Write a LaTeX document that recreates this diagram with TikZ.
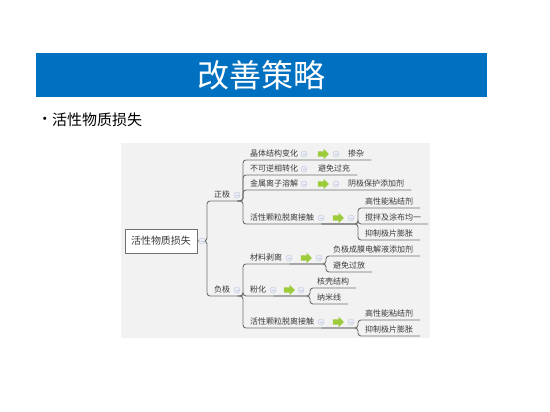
\documentclass[tikz,border=0pt]{standalone}
\usepackage{fontspec}
\newfontfamily\cjk{Noto Sans CJK SC}
\usetikzlibrary{shapes.arrows}

\definecolor{bannerblue}{HTML}{0070C0}
\definecolor{panelgray}{HTML}{F2F2F2}
\definecolor{linegray}{HTML}{707070}
\definecolor{textgray}{HTML}{3A3A3A}
\definecolor{arrowgreen}{HTML}{9CCB3B}
\definecolor{foldfill}{HTML}{ECEEF6}
\definecolor{folddraw}{HTML}{C6CCE2}

\tikzset{
  topic/.style={anchor=south west, inner xsep=7pt, inner ysep=2pt, text height=6.6pt, text depth=1.2pt,
    font=\cjk\fontsize{8}{8}\selectfont, text=textgray},
  rootbox/.style={draw=linegray, fill=white, line width=0.8pt, minimum width=72pt, minimum height=24pt,
    font=\cjk\fontsize{10}{10}\selectfont, text=textgray},
  link/.style={draw=linegray, line width=0.9pt, rounded corners=3pt},
  fold/.style={circle, draw=folddraw, fill=foldfill, line width=0.5pt, inner sep=0pt, minimum size=6pt,
    path picture={\draw[folddraw, line width=0.6pt] ([xshift=-1.5pt]path picture bounding box.center)
      -- ([xshift=1.5pt]path picture bounding box.center);}},
  greenarrow/.style={single arrow, fill=arrowgreen, draw=none, inner sep=2.5pt,
    minimum height=11pt, minimum width=10pt, single arrow head extend=2.5pt},
}

\begin{document}
\begin{tikzpicture}[x=1pt, y=-1pt]
  \useasboundingbox (0,0) rectangle (550,412);

  % 标题
  \fill[bannerblue] (36,53) rectangle (487,97);
  \node[text=white, font=\cjk\fontsize{32}{32}\selectfont] (title) at (261.5,75) {改善策略};
  \node[inner sep=0pt, font=\cjk\fontsize{15}{15}\selectfont] (dot) at (45,121) {•};
  \node[anchor=west, inner sep=0pt, font=\cjk\fontsize{15}{15}\selectfont] (head) at (52,120) {活性物质损失};

  % 背景
  \fill[panelgray] (121,143) rectangle (430,338);

  % 中心主题
  \node[rootbox] (root) at (161,241) {活性物质损失};
  \node[topic] (zj) at (207,201) {正极};
  \node[topic] (fj) at (207,296) {负极};

  % 正极
  \node[topic] (zj1) at (243,160) {晶体结构变化};
  \node[topic] (zj2) at (243,175) {不可逆相转化};
  \node[topic] (zj3) at (243,190) {金属离子溶解};
  \node[topic] (zj4) at (243,224) {活性颗粒脱离接触};
  \node[topic] (zd1) at (341,160) {掺杂};
  \node[topic] (zd2) at (311,175) {避免过充};
  \node[topic] (zd3) at (341,190) {阴极保护添加剂};
  \node[topic] (zs1) at (358,208) {高性能粘结剂};
  \node[topic] (zs2) at (358,224) {搅拌及涂布均一};
  \node[topic] (zs3) at (358,240) {抑制极片膨胀};

  % 负极
  \node[topic] (fj1) at (243,264) {材料剥离};
  \node[topic] (fj2) at (243,296) {粉化};
  \node[topic] (fj3) at (243,328) {活性颗粒脱离接触};
  \node[topic] (fs1) at (326,256) {负极成膜电解液添加剂};
  \node[topic] (fs2) at (326,272) {避免过放};
  \node[topic] (fs3) at (310,288) {核壳结构};
  \node[topic] (fs4) at (310,304) {纳米线};
  \node[topic] (fs5) at (358,320) {高性能粘结剂};
  \node[topic] (fs6) at (358,336) {抑制极片膨胀};

  % 连线
  \draw[link] (root.east) -| (zj.south west) -- (zj.south east);
  \draw[link] (root.east) -| (fj.south west) -- (fj.south east);

  \draw[link] (zj.south east) -| (zj1.south west) -- (zj1.south east) -- (zd1.south west) -- (zd1.south east);
  \draw[link] (zj.south east) -| (zj2.south west) -- (zj2.south east) -- (zd2.south west) -- (zd2.south east);
  \draw[link] (zj.south east) -| (zj3.south west) -- (zj3.south east) -- (zd3.south west) -- (zd3.south east);
  \draw[link] (zj.south east) -| (zj4.south west) -- (zj4.south east);
  \draw[link] (zj4.south east) -| (zs1.south west) -- (zs1.south east);
  \draw[link] (zj4.south east) -| (zs2.south west) -- (zs2.south east);
  \draw[link] (zj4.south east) -| (zs3.south west) -- (zs3.south east);

  \draw[link] (fj.south east) -| (fj1.south west) -- (fj1.south east);
  \draw[link] (fj.south east) -| (fj2.south west) -- (fj2.south east);
  \draw[link] (fj.south east) -| (fj3.south west) -- (fj3.south east);
  \draw[link] (fj1.south east) -| (fs1.south west) -- (fs1.south east);
  \draw[link] (fj1.south east) -| (fs2.south west) -- (fs2.south east);
  \draw[link] (fj2.south east) -| (fs3.south west) -- (fs3.south east);
  \draw[link] (fj2.south east) -| (fs4.south west) -- (fs4.south east);
  \draw[link] (fj3.south east) -| (fs5.south west) -- (fs5.south east);
  \draw[link] (fj3.south east) -| (fs6.south west) -- (fs6.south east);

  % 折叠按钮
  \node[fold] (f0) at (202,241) {};
  \node[fold] (f1) at (237,195) {};
  \node[fold] (f2) at (237,290) {};
  \node[fold] (f3) at (304,154) {};
  \node[fold] (f4) at (336,154) {};
  \node[fold] (f5) at (304,169) {};
  \node[fold] (f6) at (304,184) {};
  \node[fold] (f7) at (336,184) {};
  \node[fold] (f8) at (321,218) {};
  \node[fold] (f9) at (351,218) {};
  \node[fold] (f10) at (289,258) {};
  \node[fold] (f11) at (319,258) {};
  \node[fold] (f12) at (273,290) {};
  \node[fold] (f13) at (301,290) {};
  \node[fold] (f14) at (321,322) {};
  \node[fold] (f15) at (351,322) {};

  % 箭头
  \node[greenarrow] (a1) at (322,154) {};
  \node[greenarrow] (a2) at (322,184) {};
  \node[greenarrow] (a3) at (337,218) {};
  \node[greenarrow] (a4) at (305,258) {};
  \node[greenarrow] (a5) at (288,290) {};
  \node[greenarrow] (a6) at (337,322) {};
\end{tikzpicture}
\end{document}
